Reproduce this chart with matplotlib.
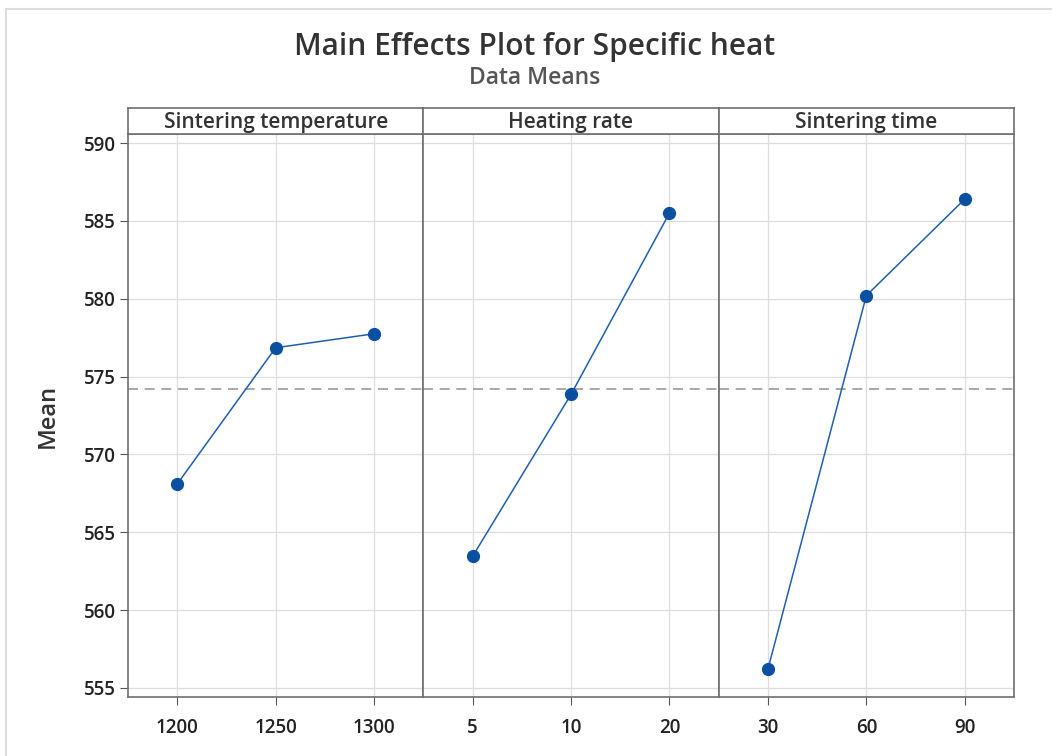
import matplotlib.pyplot as plt
from matplotlib.patches import Rectangle

plt.rcParams['font.family'] = ['Open Sans', 'DejaVu Sans']

factors = ["Sintering temperature", "Heating rate", "Sintering time"]
levels = [["1200", "1250", "1300"], ["5", "10", "20"], ["30", "60", "90"]]
means = [[568.1, 576.85, 577.75], [563.45, 573.85, 585.5], [556.2, 580.2, 586.4]]
grand_mean = 574.23
yticks = [555, 560, 565, 570, 575, 580, 585, 590]

fig = plt.figure(figsize=(10.52, 7.56), dpi=100)
fig.patches.append(Rectangle((6/1052, -0.1), 1.2, 1 - 9/756 + 0.1, transform=fig.transFigure,
                             fill=False, edgecolor='#dddddd', linewidth=1.5))

left, right = 128/1052, 1014/1052
bottom, top = 1 - 697/756, 1 - 134/756
strip_h = 26/756
w = (right - left)/3

for i in range(3):
    ax = fig.add_axes([left + i*w, bottom, w, top - bottom])
    x = range(len(levels[i]))
    ax.plot(x, means[i], color='#1f5fb0', linewidth=1.1, marker='o', markersize=8.5,
            markerfacecolor='#0a4fa0', markeredgecolor='#0a4fa0', zorder=3)
    ax.axhline(grand_mean, color='#999999', linestyle=(0, (6, 4)), linewidth=1.2, zorder=2)
    ax.set_xlim(-0.5, 2.5)
    ax.set_ylim(554.42, 590.58)
    ax.set_xticks(list(x))
    ax.set_xticklabels(levels[i], fontsize=13.5, fontweight='semibold', color='#222222')
    ax.set_yticks(yticks)
    ax.grid(True, color='#dddddd', linewidth=0.9, zorder=0)
    ax.set_axisbelow(True)
    for s in ax.spines.values():
        s.set_color('#6e6e6e')
        s.set_linewidth(1.2)
    ax.tick_params(axis='x', length=6, color='#555555', pad=9)
    if i == 0:
        ax.set_yticklabels([str(v) for v in yticks], fontsize=13.5, fontweight='semibold', color='#222222')
        ax.tick_params(axis='y', length=6, color='#555555', pad=3)
        ax.set_ylabel("Mean", fontsize=17, fontweight='semibold', color='#333333', labelpad=17)
    else:
        ax.tick_params(axis='y', length=0, labelleft=False)
    # strip header
    sax = fig.add_axes([left + i*w, top, w, strip_h])
    sax.set_xticks([])
    sax.set_yticks([])
    for s in sax.spines.values():
        s.set_color('#6e6e6e')
        s.set_linewidth(1.2)
    sax.text(0.5, 0.45, factors[i], ha='center', va='center', fontsize=15,
             fontweight='semibold', color='#333333', transform=sax.transAxes)

fig.text(0.508, 1 - 47/756, "Main Effects Plot for Specific heat", ha='center', va='center',
         fontsize=21.5, fontweight='semibold', color='#333333')
fig.text(0.508, 1 - 78/756, "Data Means", ha='center', va='center',
         fontsize=16.5, fontweight='semibold', color='#555555')

fig.savefig("out.png", dpi=100)
